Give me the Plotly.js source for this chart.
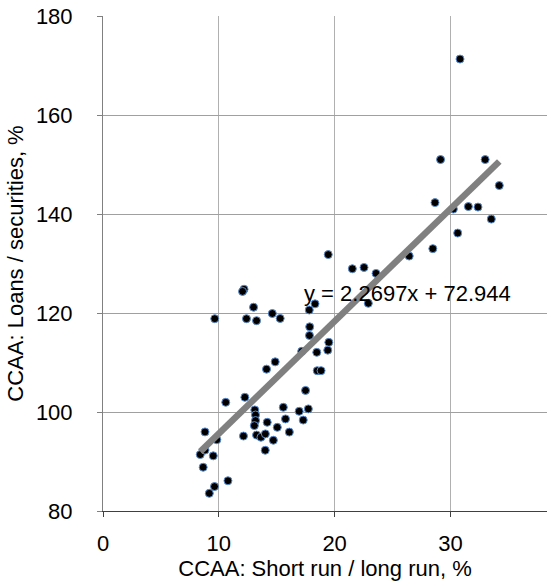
<!DOCTYPE html>
<html>
<head>
<meta charset="utf-8">
<script src="https://cdn.plot.ly/plotly-3.0.1.min.js"></script>
<style>
  html, body { margin: 0; padding: 0; background: #ffffff; }
  #chart { width: 547px; height: 588px; }
</style>
</head>
<body>
<div id="chart"></div>
<script>
// CCAA: Short run / long run, %
const xVals = [
  30.83, 29.15, 33.0, 34.22, 28.67, 30.25, 31.55, 32.38, 33.53, 30.63,
  28.48, 26.44, 19.45, 21.53, 22.54, 23.58, 22.91, 18.31, 17.81, 17.85,
  17.83, 19.5, 19.41, 18.46, 17.16, 18.5, 18.83, 12.18, 12.05, 13.0,
  9.65, 12.39, 13.26, 14.62, 15.3, 14.87, 14.12, 12.25, 10.6, 13.11,
  13.17, 13.17, 13.07, 14.18, 15.57, 15.76, 15.05, 16.09, 13.26, 13.64,
  14.02, 12.13, 14.71, 14.01, 8.81, 9.83, 8.4, 9.52, 8.65, 10.79,
  9.63, 9.18, 17.49, 16.94, 17.73, 17.29, 8.81
];
// CCAA: Loans / securities, %
const yVals = [
  171.3, 151.0, 151.0, 145.75, 142.3, 141.0, 141.5, 141.4, 138.97, 136.15,
  133.0, 131.5, 131.8, 128.94, 129.2, 128.0, 121.96, 121.85, 120.6, 117.2,
  115.46, 114.07, 112.5, 112.05, 112.25, 108.35, 108.35, 124.8, 124.36, 121.17,
  118.85, 118.85, 118.45, 119.9, 118.9, 110.13, 108.66, 102.97, 101.96, 100.42,
  99.4, 98.27, 97.25, 97.92, 100.95, 98.6, 96.9, 95.94, 95.34, 94.9,
  95.58, 95.14, 94.29, 92.27, 95.98, 94.39, 91.4, 91.14, 88.84, 86.11,
  84.94, 83.57, 104.36, 100.14, 100.63, 98.37, 92.3
];
const trendSlope = 2.2697;
const trendIntercept = 72.944;
const equationText = "y = 2.2697x + 72.944";
const xTickVals = [0, 10, 20, 30];
const yTickVals = [80, 100, 120, 140, 160, 180];

const xMin = Math.min(...xVals);
const xMax = Math.max(...xVals);
const trendX = [xMin, xMax];
const trendY = trendX.map(v => trendSlope * v + trendIntercept);

const font = "Liberation Sans, Arial, Helvetica, sans-serif";
const fs = 22;

const traces = [
  {
    x: xVals, y: yVals, type: "scatter", mode: "markers",
    marker: { color: "#000000", size: 8, line: { color: "#5b8fd0", width: 1 } },
    showlegend: false
  },
  {
    x: trendX, y: trendY, type: "scatter", mode: "lines",
    line: { color: "#808080", width: 6.5 },
    hoverinfo: "skip", showlegend: false
  }
];

const layout = {
  width: 547, height: 588,
  margin: { l: 103, r: 0, t: 16, b: 77 },
  paper_bgcolor: "#ffffff", plot_bgcolor: "#ffffff",
  font: { family: font, size: fs, color: "#000000" },
  showlegend: false,
  xaxis: {
    range: [0, 38.34], tickvals: xTickVals, ticktext: xTickVals.map(String),
    showgrid: true, gridcolor: "#b0b0b0", gridwidth: 1,
    zeroline: false, showline: true, linecolor: "#404040", linewidth: 1,
    ticks: "outside", ticklen: 5, tickcolor: "#404040",
    ticklabelstandoff: 8,
    tickfont: { family: font, size: fs, color: "#000000" },
    title: { text: "CCAA: Short run / long run, %", font: { family: font, size: fs, color: "#000000" }, standoff: 4 }
  },
  yaxis: {
    range: [80, 180], tickvals: yTickVals, ticktext: yTickVals.map(String),
    showgrid: true, gridcolor: "#a0a0a0", gridwidth: 1,
    zeroline: false, showline: true, linecolor: "#808080", linewidth: 1,
    ticks: "outside", ticklen: 5, tickcolor: "#808080",
    ticklabelstandoff: 20,
    tickfont: { family: font, size: fs, color: "#000000" },
    title: { text: "CCAA: Loans / securities, %", font: { family: font, size: fs, color: "#000000" }, standoff: 6 }
  },
  annotations: [{
    x: 17.2, y: 124.0, xref: "x", yref: "y",
    text: equationText, showarrow: false,
    xanchor: "left", yanchor: "middle",
    font: { family: font, size: fs, color: "#000000" }
  }]
};

Plotly.newPlot("chart", traces, layout, { displayModeBar: false, staticPlot: true });
</script>
</body>
</html>
